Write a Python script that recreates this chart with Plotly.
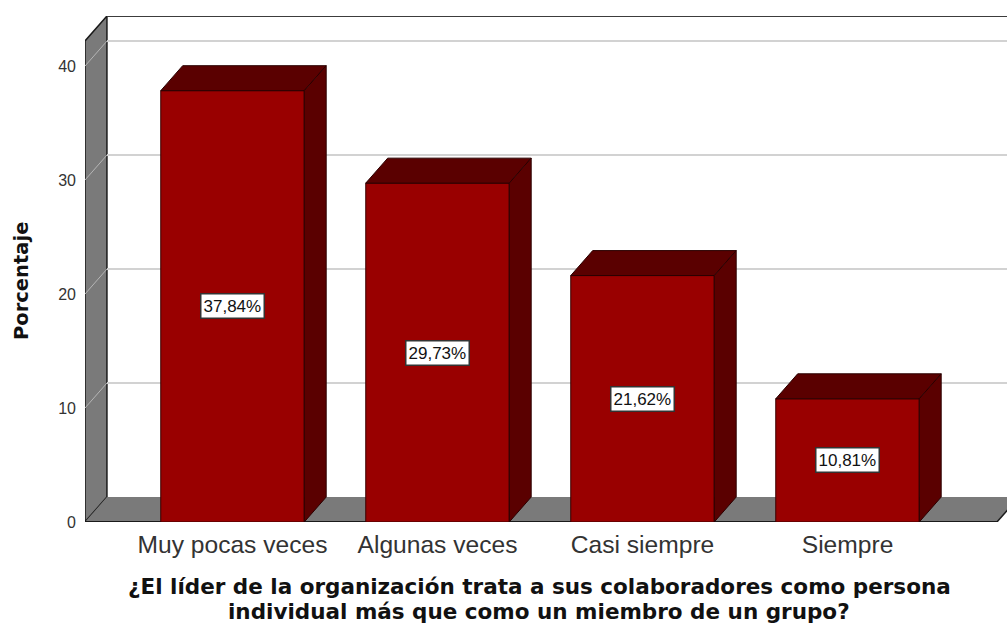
"""Porcentaje por categoria, barras 3D estilo SPSS."""
import plotly.graph_objects as go

categories = ["Muy pocas veces", "Algunas veces", "Casi siempre", "Siempre"]
values = [37.84, 29.73, 21.62, 10.81]
labels = ["37,84%", "29,73%", "21,62%", "10,81%"]
y_ticks = [0, 10, 20, 30, 40]
x_title_lines = ["¿El líder de la organización trata a sus colaboradores como persona",
                 "individual más que como un miembro de un grupo?"]

BAR = "#990000"
DARK = "#5a0000"
WALL = "#7a7a7a"
GRID = "#d2d2d2"
EDGE = "#1a1a1a"
TEXT = "#333333"

# depth of the fake 3D box, in axis units
DX = 0.107
DY = 2.19
BAR_W = 0.70
X_MIN, X_MAX = -0.7195, 3.778
FLOOR_END = 3.729
Y_TOP = 42.2

fig = go.Figure()
pos = list(range(len(categories)))

fig.add_trace(go.Bar(x=pos, y=values, width=BAR_W,
    marker=dict(color=BAR, line=dict(color="#3a0000", width=1)),
    hoverinfo="skip"))

# top and side faces of each bar
for p, v in zip(pos, values):
    l, r = p - BAR_W / 2, p + BAR_W / 2
    fig.add_trace(go.Scatter(
        x=[l, r, r + DX, l + DX, l], y=[v, v, v + DY, v + DY, v],
        mode="lines", fill="toself", fillcolor=DARK,
        line=dict(color="#2a0000", width=1), hoverinfo="skip"))
    fig.add_trace(go.Scatter(
        x=[r, r + DX, r + DX, r, r], y=[0, DY, v + DY, v, 0],
        mode="lines", fill="toself", fillcolor=DARK,
        line=dict(color="#2a0000", width=1), hoverinfo="skip"))

shapes = []
# left wall and floor
shapes.append(dict(type="path", layer="below", fillcolor=WALL,
    line=dict(color=EDGE, width=1.5),
    path=f"M {X_MIN},0 L {X_MIN + DX},{DY} L {X_MIN + DX},{Y_TOP + DY} L {X_MIN},{Y_TOP} Z"))
shapes.append(dict(type="path", layer="below", fillcolor=WALL,
    line=dict(color=WALL, width=0),
    path=f"M {X_MIN},0 L {X_MIN + DX},{DY} L {FLOOR_END + DX},{DY} L {FLOOR_END},0 Z"))
# back wall grid
for t in y_ticks[1:]:
    shapes.append(dict(type="line", layer="below", x0=X_MIN + DX, x1=X_MAX,
                       y0=t + DY, y1=t + DY, line=dict(color=GRID, width=2)))
    shapes.append(dict(type="line", layer="below", x0=X_MIN, x1=X_MIN + DX,
                       y0=t, y1=t + DY, line=dict(color="#b5b5b5", width=1)))
# top edge of back wall and front floor edge
shapes.append(dict(type="line", layer="below", x0=X_MIN + DX, x1=X_MAX,
                   y0=Y_TOP + DY, y1=Y_TOP + DY, line=dict(color="#3c3c3c", width=2)))
shapes.append(dict(type="line", layer="below", x0=X_MIN, x1=FLOOR_END,
                   y0=0, y1=0, line=dict(color=EDGE, width=2)))
shapes.append(dict(type="line", layer="below", x0=FLOOR_END, x1=FLOOR_END + DX,
                   y0=0, y1=DY, line=dict(color=EDGE, width=1.5)))

annotations = [dict(x=p, y=v / 2, text=t, showarrow=False,
                    font=dict(family="Liberation Sans", size=17, color="#111111"),
                    bgcolor="white", bordercolor="#333333", borderwidth=1.5, borderpad=2)
               for p, v, t in zip(pos, values, labels)]

# two separate lines: the reference sets them closer than plotly's line height
for line, shift in zip(x_title_lines, [-50, -75]):
    annotations.append(dict(xref="paper", yref="paper", x=0.5, y=0, xshift=-7,
                            yshift=shift, yanchor="top", text=f"<b>{line}</b>",
                            showarrow=False,
                            font=dict(family="DejaVu Sans", size=21.5, color="#111111")))

# y title sits a little below the plot's middle in the reference
annotations.append(dict(xref="paper", yref="paper", x=0, y=0.5, xanchor="center",
                        xshift=-64, yshift=-12,
                        text="<b>Porcentaje</b>", textangle=-90, showarrow=False,
                        font=dict(family="DejaVu Sans", size=19.5, color="#111111")))

fig.update_layout(
    width=1007, height=624,
    paper_bgcolor="white", plot_bgcolor="white",
    font=dict(family="Liberation Sans", color=TEXT),
    margin=dict(l=85, r=0, t=16, b=102, autoexpand=False),
    showlegend=False, barmode="overlay",
    shapes=shapes, annotations=annotations,
    xaxis=dict(range=[X_MIN, X_MAX], tickvals=pos, ticktext=categories,
               showgrid=False, zeroline=False, showline=False, ticks="",
               ticklabelstandoff=5,
               tickfont=dict(size=24.6, color=TEXT)),
    yaxis=dict(range=[0, Y_TOP + DY], tickvals=y_ticks,
               showgrid=False, zeroline=False, showline=False, ticks="",
               ticklabelstandoff=8,
               tickfont=dict(size=16, color=TEXT)),
)

# drop the page's default margin so the figure fills the window
fig.write_html("out.html", config=dict(displayModeBar=False),
               post_script="document.body.style.margin='0';document.body.style.overflow='hidden';")
